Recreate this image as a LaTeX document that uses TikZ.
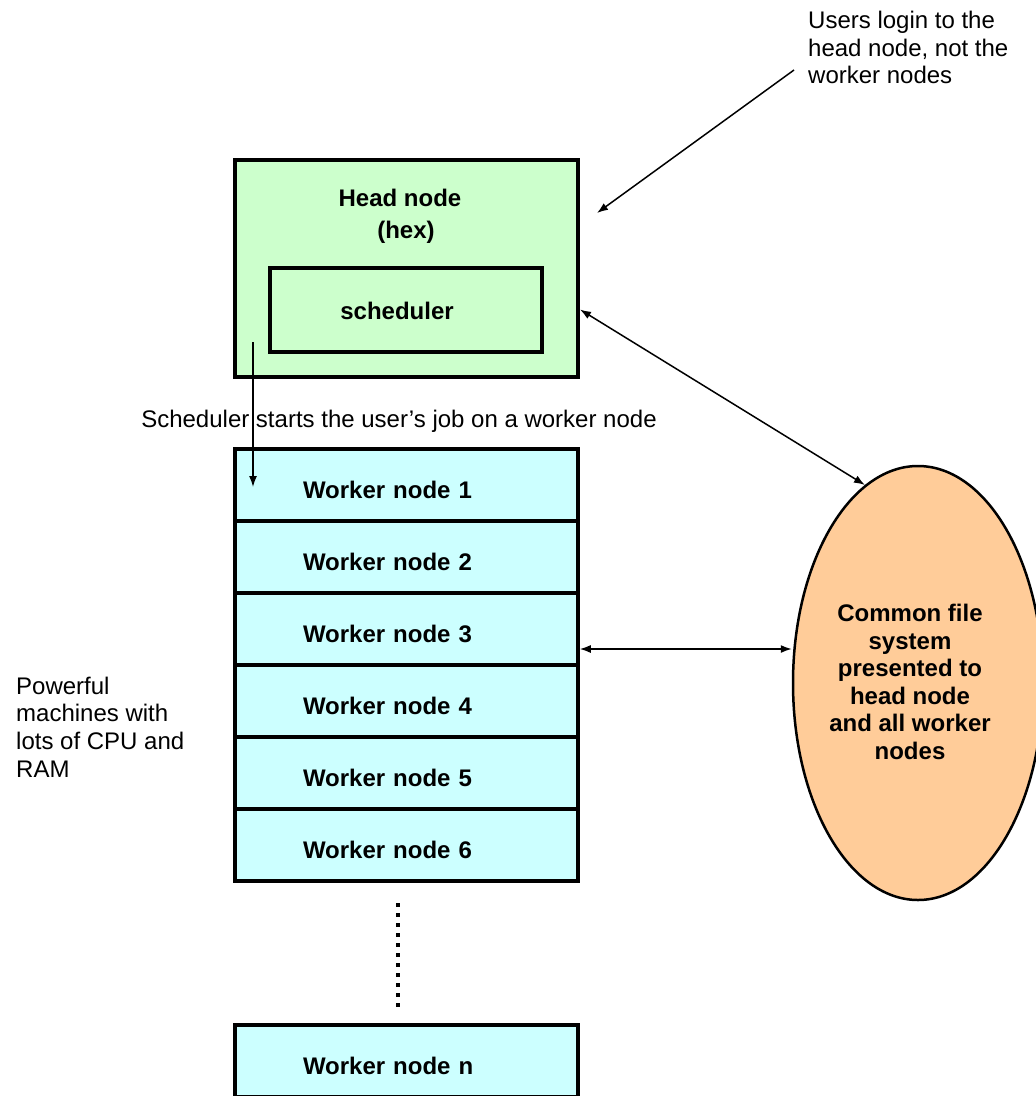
\documentclass[tikz,border=0pt]{standalone}
\usepackage{fontspec}
\setmainfont{Liberation Sans}
\usetikzlibrary{shapes.geometric,arrows.meta}
\definecolor{headgreen}{HTML}{CCFFCC}
\definecolor{workcyan}{HTML}{CCFFFF}
\definecolor{fspeach}{HTML}{FFCC99}
\begin{document}
\begin{tikzpicture}[x=1pt,y=-1pt,
  every node/.style={font=\fontsize{24}{27.6}\selectfont, inner sep=0pt},
  headbox/.style={draw, line width=4pt, fill=headgreen, minimum width=343pt, minimum height=217pt},
  schedbox/.style={draw, line width=4pt, fill=headgreen, minimum width=272pt, minimum height=84pt},
  workbox/.style={draw, line width=3.5pt, fill=workcyan, minimum width=343pt, minimum height=72pt,
    text width=207pt, align=left, text height=27pt, text depth=0pt, font=\fontsize{24}{27.6}\selectfont\bfseries},
  fsell/.style={draw, line width=2.5pt, fill=fspeach, ellipse, minimum width=250pt, minimum height=434pt},
  boldtxt/.style={font=\fontsize{24}{27.6}\selectfont\bfseries},
  plaintxt/.style={align=left},
  conn/.style={line width=1.5pt, -{Latex[length=11pt,width=8pt]}},
  biconn/.style={line width=1.5pt, {Latex[length=11pt,width=8pt]}-{Latex[length=11pt,width=8pt]}}
]
\useasboundingbox (0,0) rectangle (1036,1096);

% head node
\node[headbox] (head) at (406.5,268.5) {};
\node[boldtxt, anchor=base] (headt1) at (400,206.5) {Head node};
\node[boldtxt, anchor=base] (headt2) at (406,238) {(hex)};
\node[schedbox] (sched) at (406,310) {};
\node[boldtxt, anchor=base] (schedt) at (397,319) {scheduler};

% worker nodes
\node[workbox] (w1) at (406.5,485) {Worker node 1};
\node[workbox] (w2) at (406.5,557) {Worker node 2};
\node[workbox] (w3) at (406.5,629) {Worker node 3};
\node[workbox] (w4) at (406.5,701) {Worker node 4};
\node[workbox] (w5) at (406.5,773) {Worker node 5};
\node[workbox] (w6) at (406.5,845) {Worker node 6};
\node[workbox] (wn) at (406.5,1061) {Worker node n};

% dotted continuation
\coordinate (d1) at (398,903);
\coordinate (d2) at (398,1009);
\draw[line width=4pt, dash pattern=on 4pt off 6pt] (d1) -- (d2);

% common file system
\node[fsell] (fs) at (918,683) {};
\node[boldtxt, align=center] (fst) at (910,682) {Common file\\system\\presented to\\head node\\and all worker\\nodes};

% texts
\node[plaintxt, anchor=west] (users) at (808,47.5) {Users login to the\\head node, not the\\worker nodes};
\node[plaintxt, anchor=west] (power) at (16,727) {Powerful\\machines with\\lots of CPU and\\RAM};
\node[anchor=base] (schedlbl) at (399,427) {Scheduler starts the user’s job on a worker node};

% connectors
\coordinate (s1) at (253,342);
\coordinate (s2) at (253,487);
\draw[conn] (s1) -- (s2);

\coordinate (u1) at (794,70);
\coordinate (u2) at (597,213);
\draw[conn] (u1) -- (u2);

\draw[biconn] ([yshift=-41pt]head.east) -- (fs.105);
\draw[biconn] ([yshift=-20pt]w3.east) -- ([yshift=-20pt]w3.east -| fs.west);
\end{tikzpicture}
\end{document}
